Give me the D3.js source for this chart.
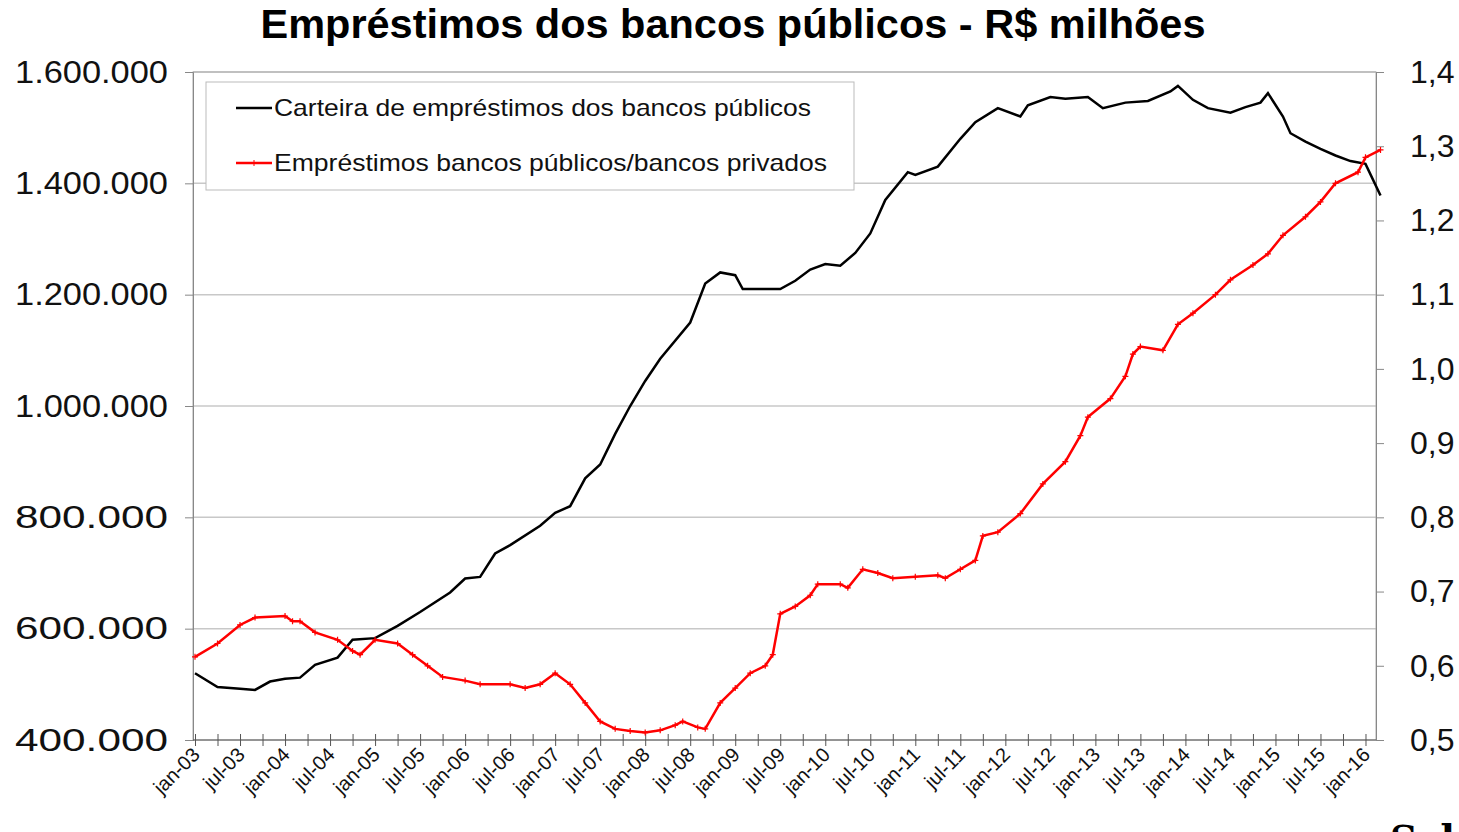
<!DOCTYPE html>
<html><head><meta charset="utf-8">
<script src="https://cdn.jsdelivr.net/npm/d3@7"></script>
<style>body{margin:0;background:#fff;}svg{display:block;font-family:"Liberation Sans",Arial,sans-serif;}</style>
</head><body><svg id="c" width="1459" height="832"></svg>
<script>
// month index from jan-03
const blackMonths = [0,3,6,8,10,12,14,16,19,21,24,27,30,34,36,38,40,42,46,48,50,52,54,56,58,60,62,66,68,70,72,73,78,80,82,84,86,88,90,92,95,96,99,102,104,107,110,111,114,116,119,121,124,127,130,131,133,135,138,140,142,143,145,146,148,150,152,154,156,158];
const blackValues = [520000,495000,492000,490000,505000,510000,512000,535000,548000,580000,583000,605000,630000,665000,690000,693000,735000,750000,785000,808000,820000,870000,895000,950000,1000000,1045000,1085000,1150000,1220000,1240000,1235000,1210000,1210000,1225000,1245000,1255000,1252000,1275000,1310000,1370000,1420000,1415000,1430000,1480000,1510000,1535000,1520000,1540000,1555000,1552000,1555000,1535000,1545000,1548000,1565000,1575000,1550000,1535000,1527000,1537000,1545000,1562000,1520000,1490000,1475000,1462000,1450000,1440000,1435000,1378000];
const redMonths = [0,3,6,8,12,13,14,16,19,21,22,24,27,29,31,33,36,38,42,44,46,48,50,52,54,56,58,60,62,64,65,67,68,70,72,74,76,77,78,80,82,83,86,87,89,91,93,96,99,100,102,104,105,107,110,113,116,118,119,122,124,125,126,129,131,133,136,138,141,143,145,148,150,152,155,156,158];
const redValues = [0.612,0.63,0.655,0.665,0.667,0.66,0.66,0.645,0.635,0.62,0.615,0.635,0.63,0.615,0.6,0.585,0.58,0.575,0.575,0.57,0.575,0.59,0.575,0.55,0.525,0.515,0.512,0.51,0.513,0.52,0.525,0.517,0.515,0.55,0.57,0.59,0.6,0.615,0.67,0.68,0.695,0.71,0.71,0.705,0.73,0.725,0.718,0.72,0.722,0.718,0.73,0.742,0.775,0.78,0.805,0.845,0.875,0.91,0.935,0.96,0.99,1.02,1.03,1.025,1.06,1.075,1.1,1.12,1.14,1.155,1.18,1.205,1.225,1.25,1.265,1.285,1.295];
const leftTicks = [400000,600000,800000,1000000,1200000,1400000,1600000];
const rightTicks = [0.5,0.6,0.7,0.8,0.9,1.0,1.1,1.2,1.3,1.4];
const monthNames = ["jan","fev","mar","abr","mai","jun","jul","ago","set","out","nov","dez"];
const legendLabels = ["Carteira de empréstimos dos bancos públicos","Empréstimos bancos públicos/bancos privados"];

const svg = d3.select("#c");
const L=193,R=1376,T=72,B=740;
const x = d3.scaleLinear().domain([0,157]).range([195,1373]);
const yL = d3.scaleLinear().domain([400000,1600000]).range([B,T]);
const yR = d3.scaleLinear().domain([0.5,1.4]).range([B,T]);
const fmtL = v => d3.format(",")(v).replace(/,/g,".");
const fmtR = v => v.toFixed(1).replace(".",",");

svg.append("text").attr("x",733).attr("y",38).attr("text-anchor","middle")
  .attr("font-size",40).attr("font-weight","bold").attr("textLength",945).attr("lengthAdjust","spacingAndGlyphs")
  .text("Empréstimos dos bancos públicos - R$ milhões");

svg.selectAll(".g").data(leftTicks.slice(1)).enter().append("line")
  .attr("x1",L).attr("x2",R).attr("y1",d=>yL(d)).attr("y2",d=>yL(d)).attr("stroke","#c8c8c8").attr("stroke-width",1.5);
svg.append("rect").attr("x",L).attr("y",T).attr("width",R-L).attr("height",B-T).attr("fill","none").attr("stroke","#aaa");

const gl = svg.append("g").attr("transform",`translate(${L},0)`)
  .call(d3.axisLeft(yL).tickValues(leftTicks).tickFormat(fmtL).tickSize(8).tickPadding(17));
gl.select(".domain").attr("stroke","#888");
gl.selectAll("line").attr("stroke","#888");
gl.selectAll("text").attr("font-size",32).attr("fill","#111").attr("font-family","Liberation Sans, Arial")
  .attr("textLength",153).attr("lengthAdjust","spacingAndGlyphs");
const gr = svg.append("g").attr("transform",`translate(${R},0)`)
  .call(d3.axisRight(yR).tickValues(rightTicks).tickFormat(fmtR).tickSize(8).tickPadding(26));
gr.select(".domain").attr("stroke","#888");
gr.selectAll("line").attr("stroke","#888");
gr.selectAll("text").attr("font-size",32).attr("fill","#111").attr("font-family","Liberation Sans, Arial");

const tickIdx = d3.range(0,159,3);
const gb = svg.append("g").attr("transform",`translate(0,${B})`)
  .call(d3.axisBottom(x).tickValues(tickIdx).tickSize(0).tickFormat(""));
gb.select(".domain").attr("d",`M${L},0H${R}`).attr("stroke","#555");
gb.selectAll(".tick line").attr("y1",-6).attr("y2",6).attr("stroke","#555");
const labIdx = d3.range(0,157,6);
svg.selectAll(".xl").data(labIdx).enter().append("text")
  .attr("transform",d=>`translate(${x(d)+6},${B+16}) rotate(-45)`)
  .attr("text-anchor","end").attr("font-size",20).attr("fill","#111")
  .text(d=>monthNames[d%12]+"-"+String(3+Math.floor(d/12)).padStart(2,"0"));

const bl = blackMonths.map((m,i)=>[m,blackValues[i]]);
const rl = redMonths.map((m,i)=>[m,redValues[i]]);
svg.append("path").datum(bl).attr("fill","none").attr("stroke","#000").attr("stroke-width",2.5)
  .attr("d",d3.line().x(d=>x(d[0])).y(d=>yL(d[1])));
svg.append("path").datum(rl).attr("fill","none").attr("stroke","#f00").attr("stroke-width",2.5)
  .attr("d",d3.line().x(d=>x(d[0])).y(d=>yR(d[1])));
svg.selectAll(".mk").data(rl).enter().append("path")
  .attr("d",d=>`M${x(d[0])-3},${yR(d[1])}h6M${x(d[0])},${yR(d[1])-3}v6`).attr("stroke","#f00").attr("stroke-width",1.2);

svg.append("rect").attr("x",206).attr("y",82).attr("width",648).attr("height",108).attr("fill","#fff").attr("stroke","#bbb");
[["#000",108,537],["#f00",163,553]].forEach((c,i)=>{
  svg.append("line").attr("x1",236).attr("x2",272).attr("y1",c[1]).attr("y2",c[1]).attr("stroke",c[0]).attr("stroke-width",2.5);
  if(i==1) svg.append("path").attr("d",`M251,${c[1]}h6M254,${c[1]-3}v6`).attr("stroke","#f00");
  svg.append("text").attr("x",274).attr("y",c[1]+8).attr("font-size",24).attr("fill","#111")
    .attr("textLength",c[2]).attr("lengthAdjust","spacingAndGlyphs").text(legendLabels[i]);
});
svg.append("text").attr("x",1390).attr("y",852).attr("font-size",38).attr("font-weight","bold")
  .attr("font-family","DejaVu Serif, serif").text("Sch");
</script></body></html>
